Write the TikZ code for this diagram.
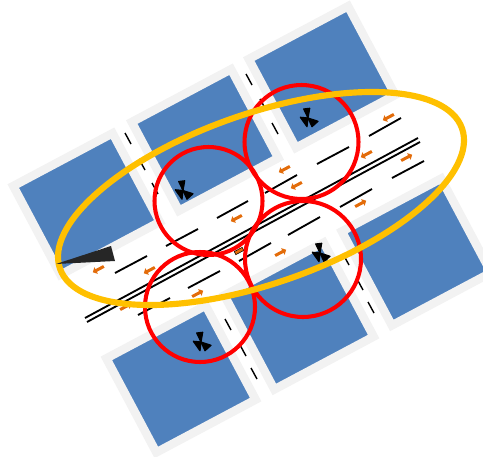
\documentclass[tikz,border=0pt]{standalone}
\usepackage{xcolor}
\usepackage{tikz}
\usetikzlibrary{shapes.arrows}
\definecolor{blockblue}{HTML}{4F81BD}
\definecolor{walkgray}{HTML}{F2F2F2}
\definecolor{flowor}{HTML}{E36C0A}
\definecolor{ringred}{HTML}{FF0000}
\definecolor{ovalamber}{HTML}{FFC000}
\definecolor{ink}{HTML}{000000}
\definecolor{wedgeink}{HTML}{262626}
\tikzset{
  block/.style={fill=blockblue,draw=walkgray,line width=1.7mm,rotate=28,minimum width=22.5mm,minimum height=20.1mm,inner sep=0pt},
  lane/.style={draw=ink,line width=1.05pt},
  median/.style={draw=ink,line width=1.05pt},
  crossing/.style={draw=ink,line width=0.8pt},
  flow/.style={single arrow,fill=flowor,draw=none,minimum width=1.5mm,minimum height=2.5mm,inner sep=0.2mm,single arrow head extend=0.4mm,single arrow head indent=0pt},
  ring/.style={draw=ringred,line width=2.3pt},
  oval/.style={draw=ovalamber,line width=3.5pt},
  valve/.pic={
    \filldraw[ink,line width=0.7pt,line join=round] (0,0)--(-4.3,-9)--(1.7,-9.7)--cycle;
    \filldraw[ink,line width=0.7pt,line join=round] (0,0)--(10,3.3)--(4,8.7)--cycle;
    \filldraw[ink,line width=0.7pt,line join=round] (0,0)--(-7.7,-0.7)--(-1,8.7)--cycle;
  }
}
\begin{document}
\begin{tikzpicture}[x=0.2mm,y=-0.2mm]
  \useasboundingbox (0,0) rectangle (483,457);
  % blocks
  \node[block] (blockA) at (86.5,204) {};
  \node[block] (blockB) at (205,140) {};
  \node[block] (blockC) at (322,77) {};
  \node[block,minimum height=21.3mm] (blockD) at (181,379) {};
  \node[block,minimum height=21.3mm] (blockE) at (299,316) {};
  \node[block,minimum height=21.3mm] (blockF) at (416.5,252) {};
  % lanes
  \draw[median] (85,318)--(418,138);
  \draw[median] (87,322)--(420,142);
  \foreach \xa/\ya/\xb/\yb in {115/273/147/256,166/246/198/229,217/218/248/201,265/193/297/175,317/164/349/147,369/136/401/118,
    138/315/170/298,188/288/220/271,239/261/271/243,288/235/320/217,340/207/372/189,392/178/424/161}
    \draw[lane] (\xa,\ya)--(\xb,\yb);
  % crossings
  \foreach \xa/\ya in {125/133,139/159,152/183,246/74,260/99,272/123,225/319,240/345,251/368,343/254,357/279,368/302}
    \draw[crossing] (\xa,\ya)--++(6,11);
  % flows
  \foreach \xa/\ya [count=\i] in {99/269,150/270,237/218,285/169,297/185,367/154,389/117}
    \node[flow,rotate=208] (west\i) at (\xa,\ya) {};
  \foreach \xa/\ya [count=\i] in {125/307,197/294,280/253,360/204,406/158}
    \node[flow,rotate=28] (east\i) at (\xa,\ya) {};
  \node[fill=flowor,draw=ink,line width=0.3pt,rotate=28,minimum width=1.8mm,minimum height=0.7mm,inner sep=0pt] (spill) at (239,251) {};
  % valves
  \pic (valveA) at (183,190.5) {valve};
  \pic (valveB) at (308,118) {valve};
  \pic (valveC) at (320,253) {valve};
  \pic (valveD) at (201,342) {valve};
  % rings
  \draw[ring] (208.5,201) circle (54);
  \draw[ring] (301.5,142) circle (57);
  \draw[ring] (303,259) circle (58);
  \draw[ring] (200,307) circle (55);
  \draw[oval,rotate around={19.2:(261,198.5)}] (261,198.5) ellipse (212.9 and 85);
  \fill[wedgeink] (56,264)--(111,246)--(115,261)--cycle;
\end{tikzpicture}
\end{document}
